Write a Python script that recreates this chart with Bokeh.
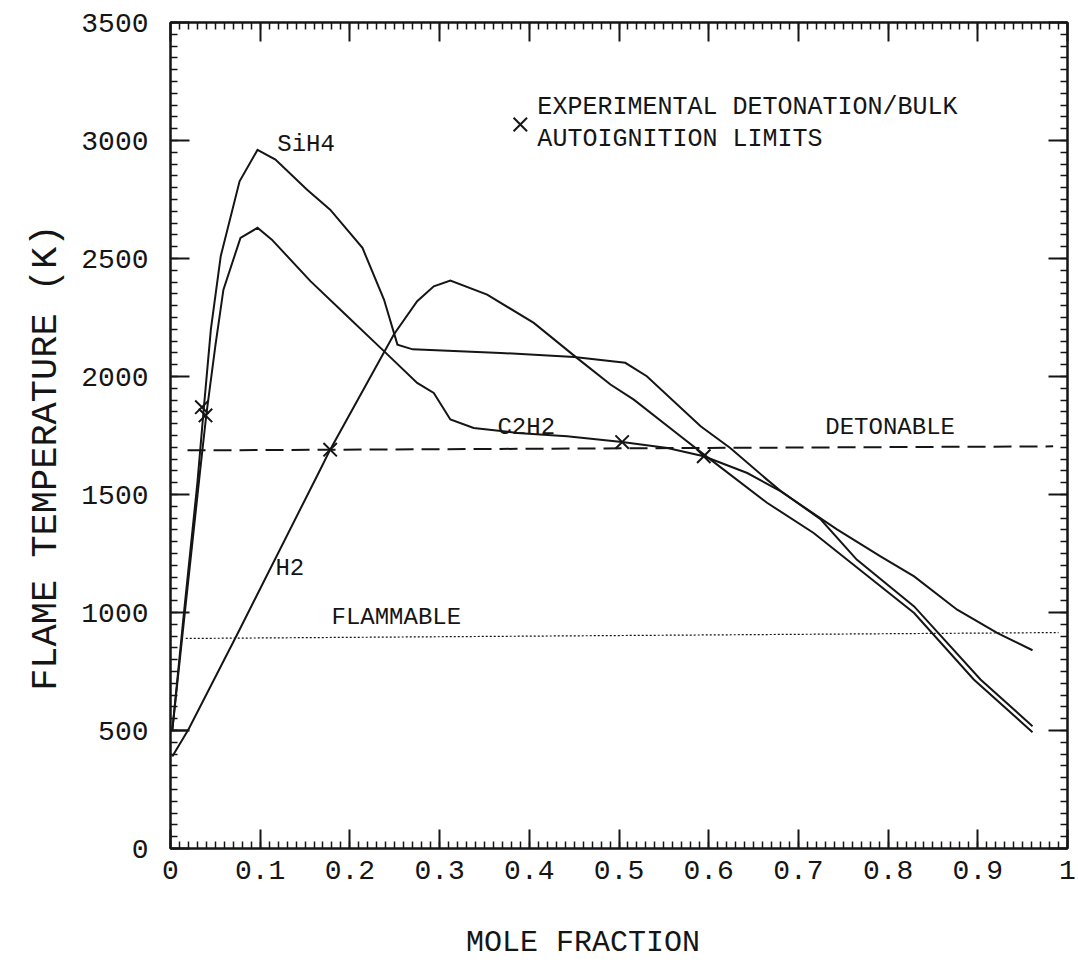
from bokeh.plotting import figure
from bokeh.models import Range1d, LinearAxis, FixedTicker, CustomJSTickFormatter
from bokeh.core.properties import value
from bokeh.embed import file_html
from bokeh.resources import INLINE

# ---- data ----
sih4_x = [0.002, 0.015, 0.030, 0.037, 0.045, 0.056, 0.077, 0.097, 0.117, 0.152, 0.178, 0.214,
          0.238, 0.253, 0.270, 0.368, 0.450, 0.507, 0.531, 0.591, 0.624, 0.665, 0.680, 0.725,
          0.765, 0.829, 0.903, 0.961]
sih4_y = [500, 1000, 1550, 1860, 2200, 2510, 2827, 2960, 2919, 2792, 2707, 2545,
          2326, 2135, 2115, 2100, 2083, 2058, 2001, 1789, 1697, 1563, 1516, 1394,
          1224, 1026, 716, 518]

c2h2_x = [0.020, 0.002, 0.016, 0.033, 0.040, 0.050, 0.059, 0.078, 0.097, 0.113, 0.156, 0.193,
          0.240, 0.275, 0.2935, 0.312, 0.338, 0.3865, 0.442, 0.5035, 0.554, 0.5945, 0.643,
          0.680, 0.743, 0.7915, 0.829, 0.877, 0.922, 0.961]
c2h2_y = [500, 500, 1000, 1600, 1840, 2130, 2368, 2587, 2630, 2580, 2404, 2270,
          2100, 1973, 1930, 1818, 1782, 1761, 1747, 1722, 1697, 1662, 1591,
          1514, 1352, 1238, 1153, 1012, 913, 840]

h2_x = [0.002, 0.020, 0.074, 0.167, 0.178, 0.249, 0.275, 0.2935, 0.312, 0.353, 0.405, 0.453,
        0.4905, 0.5165, 0.5686, 0.5945, 0.665, 0.717, 0.773, 0.829, 0.8955, 0.961]
h2_y = [390, 504, 905, 1606, 1690, 2178, 2319, 2382, 2407, 2347, 2227, 2079,
        1966, 1902, 1747, 1670, 1465, 1337, 1167, 998, 716, 493]

# experimental detonation / bulk autoignition limits
limit_x = [0.035, 0.039, 0.178, 0.5035, 0.5945]
limit_y = [1870, 1835, 1690, 1722, 1662]

# detonable / flammable threshold lines
deton_x = [0.019, 0.984]
deton_y = [1687, 1704]
flam_x = [0.017, 0.99]
flam_y = [890, 915]

# labels
label_text = ["SiH4", "C2H2", "H2", "DETONABLE", "FLAMMABLE"]
label_x = [0.119, 0.3645, 0.117, 0.730, 0.1795]
label_y = [2983, 1784, 1186, 1784, 979]

legend_marker_x = [0.39]
legend_marker_y = [3068]
legend_text = ["EXPERIMENTAL DETONATION/BULK", "AUTOIGNITION LIMITS"]
legend_x = [0.409, 0.409]
legend_y = [3140, 3004]

NBSP = "\u00a0"
x_title = "MOLE FRACTION"
y_title = "FLAME TEMPERATURE (K)"

x_ticks = [0.0, 0.1, 0.2, 0.3, 0.4, 0.5, 0.6, 0.7, 0.8, 0.9, 1.0]
x_tick_labels = ["0", "0.1", "0.2", "0.3", "0.4", "0.5", "0.6", "0.7", "0.8", "0.9", "1"]
x_minor = [i / 100 for i in range(101)]
y_ticks = [0, 500, 1000, 1500, 2000, 2500, 3000, 3500]
y_tick_labels = ["0", "500", "1000", "1500", "2000", "2500", "3000", "3500"]
y_minor = list(range(0, 3501, 50))

# ---- figure ----
INK = "#151515"
FONT = "Liberation Mono"

# trailing no-break spaces shift the titles slightly off-centre, as in the reference
p = figure(frame_width=897, frame_height=826,
           min_border_left=170, min_border_right=11, min_border_top=22, min_border_bottom=109,
           x_range=Range1d(0, 1), y_range=Range1d(0, 3500),
           output_backend="svg", toolbar_location=None,
           x_axis_label=x_title + NBSP * 4, y_axis_label=y_title + NBSP * 2)
p.background_fill_color = "white"
p.border_fill_color = "white"
p.grid.visible = False
p.outline_line_color = INK
p.outline_line_width = 2

label_fmt = """
const i = tvals.findIndex(t => Math.abs(t - tick) < 1e-9);
return i >= 0 ? tlabels[i] : '';
"""

def style_axis(ax):
    ax.axis_line_color = INK
    ax.axis_line_width = 2
    ax.major_tick_line_color = INK
    ax.major_tick_line_width = 2
    ax.minor_tick_line_color = INK
    ax.minor_tick_line_width = 1.5
    ax.major_tick_in = 19
    ax.major_tick_out = 0
    ax.minor_tick_in = 7
    ax.minor_tick_out = 0
    ax.major_label_text_font = FONT
    ax.major_label_text_font_size = "28px"
    ax.major_label_text_color = INK
    ax.axis_label_text_font = FONT
    ax.axis_label_text_font_style = "normal"
    ax.axis_label_text_color = INK

xa = p.xaxis[0]
xa.ticker = FixedTicker(ticks=x_ticks, minor_ticks=x_minor)
xa.formatter = CustomJSTickFormatter(args=dict(tvals=x_ticks, tlabels=x_tick_labels), code=label_fmt)
style_axis(xa)
xa.major_label_standoff = 12
xa.axis_label_standoff = 44
xa.axis_label_text_font_size = "30px"

ya = p.yaxis[0]
ya.ticker = FixedTicker(ticks=y_ticks, minor_ticks=y_minor)
ya.formatter = CustomJSTickFormatter(args=dict(tvals=y_ticks, tlabels=y_tick_labels), code=label_fmt)
style_axis(ya)
ya.major_label_standoff = 22
ya.axis_label_standoff = 11
ya.axis_label_text_font_size = "37px"

blank = CustomJSTickFormatter(code="return '';")
top = LinearAxis(ticker=FixedTicker(ticks=x_ticks, minor_ticks=x_minor), formatter=blank)
right = LinearAxis(ticker=FixedTicker(ticks=y_ticks, minor_ticks=y_minor), formatter=blank)
for ax in (top, right):
    style_axis(ax)
    ax.major_label_standoff = 0
    ax.major_label_text_font_size = "1px"
p.add_layout(top, "above")
p.add_layout(right, "right")

# curves
for xs, ys in ((sih4_x, sih4_y), (c2h2_x, c2h2_y), (h2_x, h2_y)):
    p.line(xs, ys, line_color=INK, line_width=2, line_join="miter")

# thresholds
p.line(deton_x, deton_y, line_color=INK, line_width=2, line_dash="18 8")
p.line(flam_x, flam_y, line_color=INK, line_width=1.2, line_dash="2 2")

# experimental limits
p.scatter(limit_x, limit_y, marker="x", size=19, line_color=INK, line_width=2)
p.scatter(legend_marker_x, legend_marker_y, marker="x", size=19, line_color=INK, line_width=2)

# labels
p.text(label_x, label_y, text=label_text, text_font=value(FONT), text_font_size="24px",
       text_color=INK, text_align="left", text_baseline="middle")
p.text(legend_x, legend_y, text=legend_text, text_font=value(FONT), text_font_size="25px",
       text_color=INK, text_align="left", text_baseline="middle")

open("out.html", "w").write(file_html(p, INLINE))
